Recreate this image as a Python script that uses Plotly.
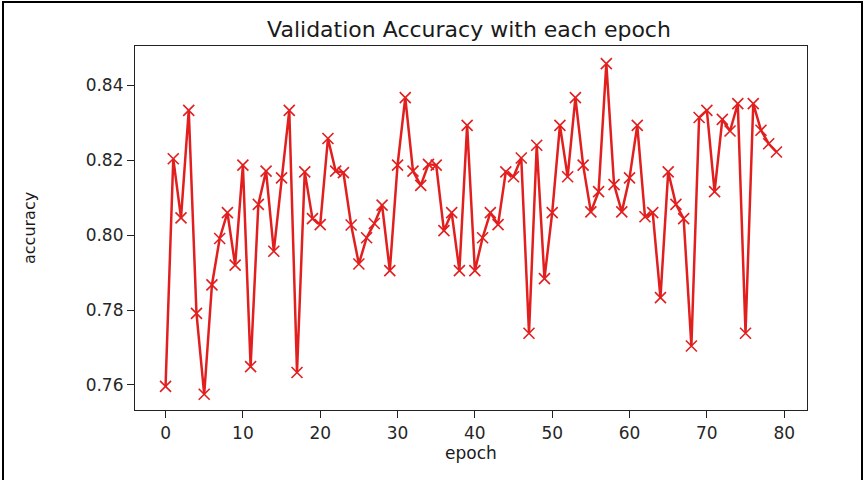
import plotly.graph_objects as go

epochs = list(range(80))
accuracy = [
    0.7596, 0.8204, 0.8046, 0.8333, 0.7791, 0.7575, 0.7867, 0.7991, 0.8060, 0.7920,
    0.8187, 0.7649, 0.8082, 0.8171, 0.7957, 0.8153, 0.8333, 0.7633, 0.8169, 0.8044,
    0.8028, 0.8258, 0.8171, 0.8167, 0.8027, 0.7923, 0.7993, 0.8031, 0.8080, 0.7905,
    0.8187, 0.8367, 0.8171, 0.8133, 0.8189, 0.8187, 0.8012, 0.8060, 0.7905, 0.8293,
    0.7905, 0.7993, 0.8060, 0.8028, 0.8169, 0.8156, 0.8206, 0.7738, 0.8240, 0.7884,
    0.8060, 0.8293, 0.8156, 0.8367, 0.8187, 0.8062, 0.8116, 0.8458, 0.8135, 0.8062,
    0.8153, 0.8293, 0.8049, 0.8060, 0.7833, 0.8169, 0.8082, 0.8044, 0.7704, 0.8314,
    0.8333, 0.8116, 0.8309, 0.8278, 0.8351, 0.7738, 0.8351, 0.8280, 0.8244, 0.8222,
]
x_ticks = [0, 10, 20, 30, 40, 50, 60, 70, 80]
y_ticks = [0.76, 0.78, 0.80, 0.82, 0.84]

RED = "#e21f1f"
FONT = "DejaVu Sans"

fig = go.Figure()
fig.add_trace(go.Scatter(
    x=epochs, y=accuracy, mode="lines+markers",
    line=dict(color=RED, width=2.5),
    marker=dict(symbol="x-thin", size=11, color=RED, line=dict(color=RED, width=1.6)),
    showlegend=False,
))

axis_common = dict(
    showgrid=False, zeroline=False, showline=True, linecolor="#222", linewidth=1.2,
    mirror=True, ticks="outside", ticklen=7, tickcolor="#222", tickwidth=1.2,
    tickfont=dict(family=FONT, size=17, color="#262626"),
)
fig.update_xaxes(range=[-3.95, 82.95], tickvals=x_ticks, **axis_common)
fig.update_yaxes(range=[0.7533, 0.8505], tickvals=y_ticks, tickformat=".2f", **axis_common)

fig.update_layout(
    width=866, height=480,
    margin=dict(l=135, r=59, t=46, b=70),
    paper_bgcolor="white", plot_bgcolor="white",
    title=dict(text="Validation Accuracy with each epoch", x=469 / 866, xref="container",
               y=1 - 29 / 480, yref="container", yanchor="middle", xanchor="center",
               font=dict(family=FONT, size=22, color="#1a1a1a")),
    annotations=[
        dict(text="epoch", xref="paper", yref="paper", x=0.5, y=-43 / 364,
             yanchor="middle", xanchor="center", showarrow=False,
             font=dict(family=FONT, size=17, color="#1a1a1a")),
        dict(text="accuracy", xref="paper", yref="paper", x=-106 / 672, y=0.5,
             yanchor="middle", xanchor="center", textangle=-90, showarrow=False,
             font=dict(family=FONT, size=16, color="#1a1a1a")),
    ],
    shapes=[
        dict(type="rect", xref="paper", yref="paper",
             x0=(3 - 135) / 672, x1=(862 - 135) / 672,
             y0=(410 - 485) / 364, y1=(410 - 2) / 364,
             line=dict(color="black", width=2)),
    ],
)

fig.write_html("out.html", config={"displayModeBar": False},
               post_script="document.body.style.margin='0';")
